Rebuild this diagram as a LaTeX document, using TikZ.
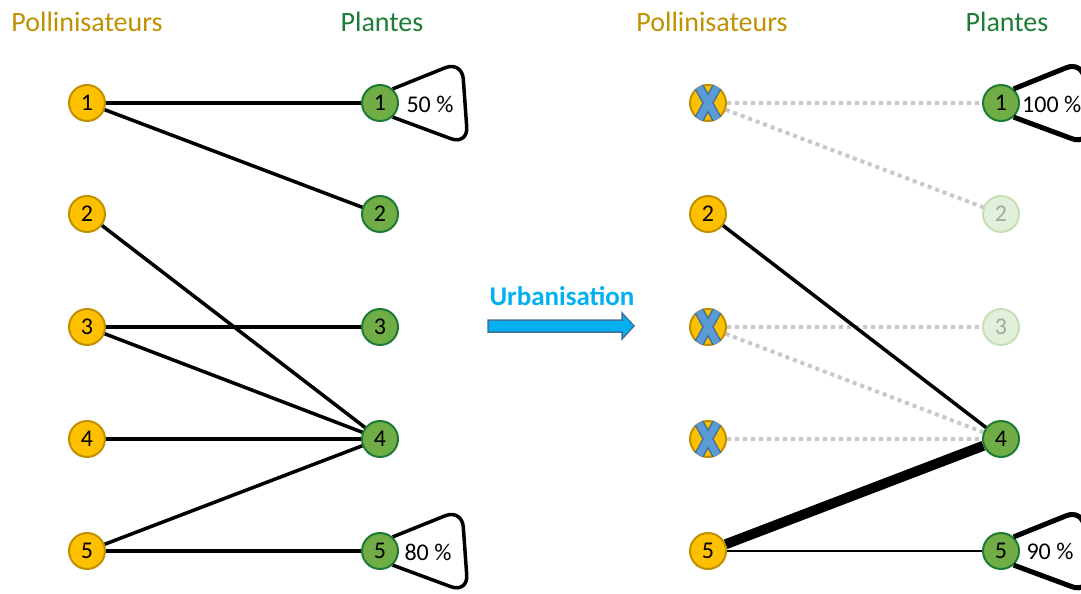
\documentclass[tikz,border=0pt]{standalone}
\usepackage{fontspec}
\setmainfont{Carlito}
\definecolor{jaune}{HTML}{FFC000}
\definecolor{jauneb}{HTML}{BF9000}
\definecolor{vert}{HTML}{70AD47}
\definecolor{vertb}{HTML}{1E7B34}
\definecolor{vertpale}{HTML}{E2EFDA}
\definecolor{vertpaleb}{HTML}{C5E0B4}
\definecolor{bleux}{HTML}{5B9BD5}
\definecolor{bleuxb}{HTML}{41719C}
\definecolor{bleuf}{HTML}{00B0F0}
\definecolor{grislien}{HTML}{C8C8C8}
\tikzset{
    polli/.style = {circle, draw=jauneb, fill=jaune, line width=2pt, minimum size=36pt, inner sep=0pt, font=\fontsize{24}{26}\selectfont},
    plante/.style = {circle, draw=vertb, fill=vert, line width=2pt, minimum size=36pt, inner sep=0pt, font=\fontsize{24}{26}\selectfont},
    plantepale/.style = {plante, draw=vertpaleb, fill=vertpale, text=gray!70},
    titrepolli/.style = {text=jauneb, font=\fontsize{28}{30}\selectfont},
    titreplante/.style = {text=vertb, font=\fontsize{28}{30}\selectfont},
    pourcent/.style = {font=\fontsize{24}{26}\selectfont},
    lien/.style = {line width=3.5pt, black},
    lienmort/.style = {line width=4pt, grislien, dash pattern=on 4pt off 4pt},
    boucle/.style = {line width=3.5pt, black, rounded corners=18pt}
}
\newcommand{\croix}[1]{%
    \draw[line width=10pt, bleuxb] ([shift={(-9,-16)}]#1.center) -- ([shift={(9,16)}]#1.center)
        ([shift={(9,-16)}]#1.center) -- ([shift={(-9,16)}]#1.center);
    \draw[line width=7pt, bleux] ([shift={(-9,-16)}]#1.center) -- ([shift={(9,16)}]#1.center)
        ([shift={(9,-16)}]#1.center) -- ([shift={(-9,16)}]#1.center);
}

\begin{document}
\begin{tikzpicture}[x=1pt, y=-1pt]
	\clip (0,0) rectangle (1081,594);
	\fill[white] (0,0) rectangle (1081,594);

	% titres
	\node[titrepolli] (T1) at (87, 22) {Pollinisateurs};
	\node[titreplante] (T2) at (382, 22) {Plantes};
	\node[titrepolli] (T3) at (712, 22) {Pollinisateurs};
	\node[titreplante] (T4) at (1007, 22) {Plantes};

	% avant urbanisation
	\node[polli] (A1) at (87, 103) {1};
	\node[polli] (A2) at (87, 214) {2};
	\node[polli] (A3) at (87, 327) {3};
	\node[polli] (A4) at (87, 439) {4};
	\node[polli] (A5) at (87, 551) {5};
	\node[plante] (L1) at (380, 103) {1};
	\node[plante] (L2) at (380, 214) {2};
	\node[plante] (L3) at (380, 327) {3};
	\node[plante] (L4) at (380, 439) {4};
	\node[plante] (L5) at (380, 551) {5};

	\draw[lien] (A1) -- (L1);
	\draw[lien] (A1) -- (L2);
	\draw[lien] (A2) -- (L4);
	\draw[lien] (A3) -- (L3);
	\draw[lien] (A3) -- (L4);
	\draw[lien] (A4) -- (L4);
	\draw[lien] (A5) -- (L4);
	\draw[lien] (A5) -- (L5);

	\draw[boucle] (L1.48) -- ([shift={(82,-42)}]L1.center) -- ([shift={(88,42)}]L1.center) -- (L1.-48);
	\draw[boucle] (L5.48) -- ([shift={(82,-42)}]L5.center) -- ([shift={(88,42)}]L5.center) -- (L5.-48);
	\node[pourcent] (P1) at (430, 104) {50 \%};
	\node[pourcent] (P5) at (428, 552) {80 \%};

	% fleche
	\draw[line width=1.5pt, bleuxb, fill=bleuf] (488,320) -- (622,320) -- (622,313) -- (634,326) -- (622,339) -- (622,332) -- (488,332) -- cycle;
	\node[text=bleuf, font=\bfseries\fontsize{27}{30}\selectfont] (U) at (562, 296) {Urbanisation};

	% apres urbanisation
	\node[polli] (B1) at (708, 103) {};
	\node[polli] (B2) at (708, 214) {2};
	\node[polli] (B3) at (708, 327) {};
	\node[polli] (B4) at (708, 439) {};
	\node[polli] (B5) at (708, 551) {5};
	\node[plante] (R1) at (1001, 103) {1};
	\node[plantepale] (R2) at (1001, 214) {2};
	\node[plantepale] (R3) at (1001, 327) {3};
	\node[plante] (R4) at (1001, 439) {4};
	\node[plante] (R5) at (1001, 551) {5};

	\draw[lienmort] (B1) -- (R1);
	\draw[lienmort] (B1) -- (R2);
	\draw[lienmort] (B3) -- (R3);
	\draw[lienmort] (B3) -- (R4);
	\draw[lienmort] (B4) -- (R4);
	\draw[lien] (B2) -- (R4);
	\draw[lien, line width=10pt] (B5) -- (R4);
	\draw[lien, line width=1.8pt] (B5) -- (R5);

	\croix{B1}
	\croix{B3}
	\croix{B4}

	\draw[boucle, line width=5pt] (R1.48) -- ([shift={(82,-42)}]R1.center) -- ([shift={(88,42)}]R1.center) -- (R1.-48);
	\draw[boucle, line width=5pt] (R5.48) -- ([shift={(82,-42)}]R5.center) -- ([shift={(88,42)}]R5.center) -- (R5.-48);
	\node[pourcent, anchor=west, inner sep=0pt] (Q1) at (1022, 104) {100 \%};
	\node[pourcent] (Q5) at (1050, 551) {90 \%};
\end{tikzpicture}
\end{document}
